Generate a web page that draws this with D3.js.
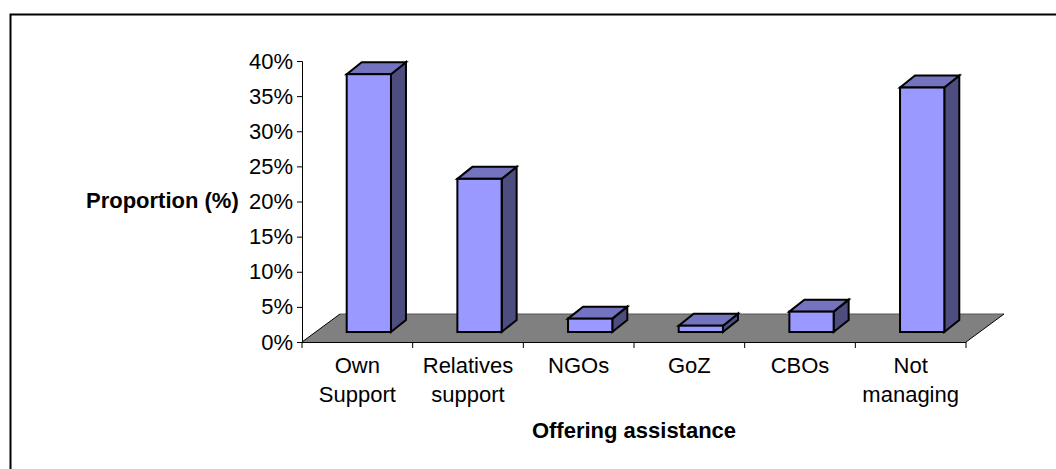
<!DOCTYPE html>
<html>
<head>
<meta charset="utf-8">
<script src="https://cdn.jsdelivr.net/npm/d3@7"></script>
<style>
  html, body { margin: 0; padding: 0; background: #fff; }
  text { font-family: "Liberation Sans", Arial, sans-serif; fill: #000; }
</style>
</head>
<body>
<div id="chart"></div>
<script>
const categories = [["Own", "Support"], ["Relatives", "support"], ["NGOs"], ["GoZ"], ["CBOs"], ["Not", "managing"]];
const values = [36.7, 21.8, 1.9, 0.9, 2.9, 34.8];
const yTicks = [0, 5, 10, 15, 20, 25, 30, 35, 40];
const yTitle = "Proportion (%)";
const xTitle = "Offering assistance";

const width = 1056;
const height = 469;

// 3d offsets
const floorDx = 38, floorDy = 28;
const barShiftX = 11.5, barShiftY = 10;
const barDx = 15, barDy = 12;

const svg = d3.select("#chart")
  .append("svg")
  .attr("width", width)
  .attr("height", height)
  .style("display", "block");

const x = d3.scaleBand()
  .domain(categories.map((d, i) => i))
  .range([302, 966])
  .paddingInner(0.6)
  .paddingOuter(0.3);

const y = d3.scaleLinear().domain([0, 40]).range([342, 61]);

// outer frame, open on the right
svg.append("path")
  .attr("d", "M10.5,469V14.5H1056")
  .attr("fill", "none")
  .attr("stroke", "#000")
  .attr("stroke-width", 2);

// floor
svg.append("path")
  .attr("d", `M302,342L${302 + floorDx},${342 - floorDy}H${966 + floorDx}L966,342Z`)
  .attr("fill", "#808080");
svg.append("path")
  .attr("d", `M${302 + floorDx},${342 - floorDy}H${966 + floorDx}`)
  .attr("fill", "none")
  .attr("stroke", "#555");
svg.append("path")
  .attr("d", `M302,342L${302 + floorDx},${342 - floorDy}M966,342L${966 + floorDx},${342 - floorDy}`)
  .attr("fill", "none")
  .attr("stroke", "#000");

// axes
const yAxis = d3.axisLeft(y)
  .tickValues(yTicks)
  .tickFormat(d => d + "%")
  .tickSize(5)
  .tickPadding(4);
const yG = svg.append("g").attr("transform", "translate(302,0)").call(yAxis);
yG.selectAll("text").attr("font-size", 22);
yG.select(".domain").attr("stroke", "#000");

const tickX = d3.range(categories.length + 1).map(i => 302 + i * x.step());
svg.append("line")
  .attr("x1", 302).attr("x2", 966)
  .attr("y1", 342.5).attr("y2", 342.5)
  .attr("stroke", "#000");
svg.selectAll(".xtick")
  .data(tickX)
  .join("line")
  .attr("class", "xtick")
  .attr("x1", d => d).attr("x2", d => d)
  .attr("y1", 342).attr("y2", 348)
  .attr("stroke", "#000");

// bars
const bar = svg.selectAll(".bar")
  .data(values)
  .join("g")
  .attr("class", "bar")
  .attr("transform", (d, i) => `translate(${x(i) + barShiftX},${-barShiftY})`);

const w = x.bandwidth();

bar.append("path")
  .attr("d", d => `M${w},${y(d)}l${barDx},${-barDy}V${y(0) - barDy}L${w},${y(0)}Z`)
  .attr("fill", "#4d4d7f");
bar.append("path")
  .attr("d", d => `M0,${y(d)}l${barDx},${-barDy}H${w + barDx}L${w},${y(d)}Z`)
  .attr("fill", "#7373bf");
bar.append("rect")
  .attr("x", 0)
  .attr("y", d => y(d))
  .attr("width", w)
  .attr("height", d => y(0) - y(d))
  .attr("fill", "#9999ff");
bar.selectAll("path, rect")
  .attr("stroke", "#000")
  .attr("stroke-width", 2)
  .attr("stroke-linejoin", "miter");

// category labels
svg.selectAll(".cat")
  .data(categories)
  .join("text")
  .attr("class", "cat")
  .attr("text-anchor", "middle")
  .attr("font-size", 22)
  .attr("x", (d, i) => 302 + (i + 0.5) * x.step())
  .attr("y", 373)
  .selectAll("tspan")
  .data(d => d)
  .join("tspan")
  .attr("x", function () { return d3.select(this.parentNode).attr("x"); })
  .attr("dy", (d, i) => i ? 29 : 0)
  .text(d => d);

svg.append("text")
  .attr("x", 86)
  .attr("y", 208)
  .attr("font-size", 22)
  .attr("font-weight", "bold")
  .text(yTitle);

svg.append("text")
  .attr("x", 634)
  .attr("y", 438)
  .attr("text-anchor", "middle")
  .attr("font-size", 22)
  .attr("font-weight", "bold")
  .text(xTitle);
</script>
</body>
</html>
